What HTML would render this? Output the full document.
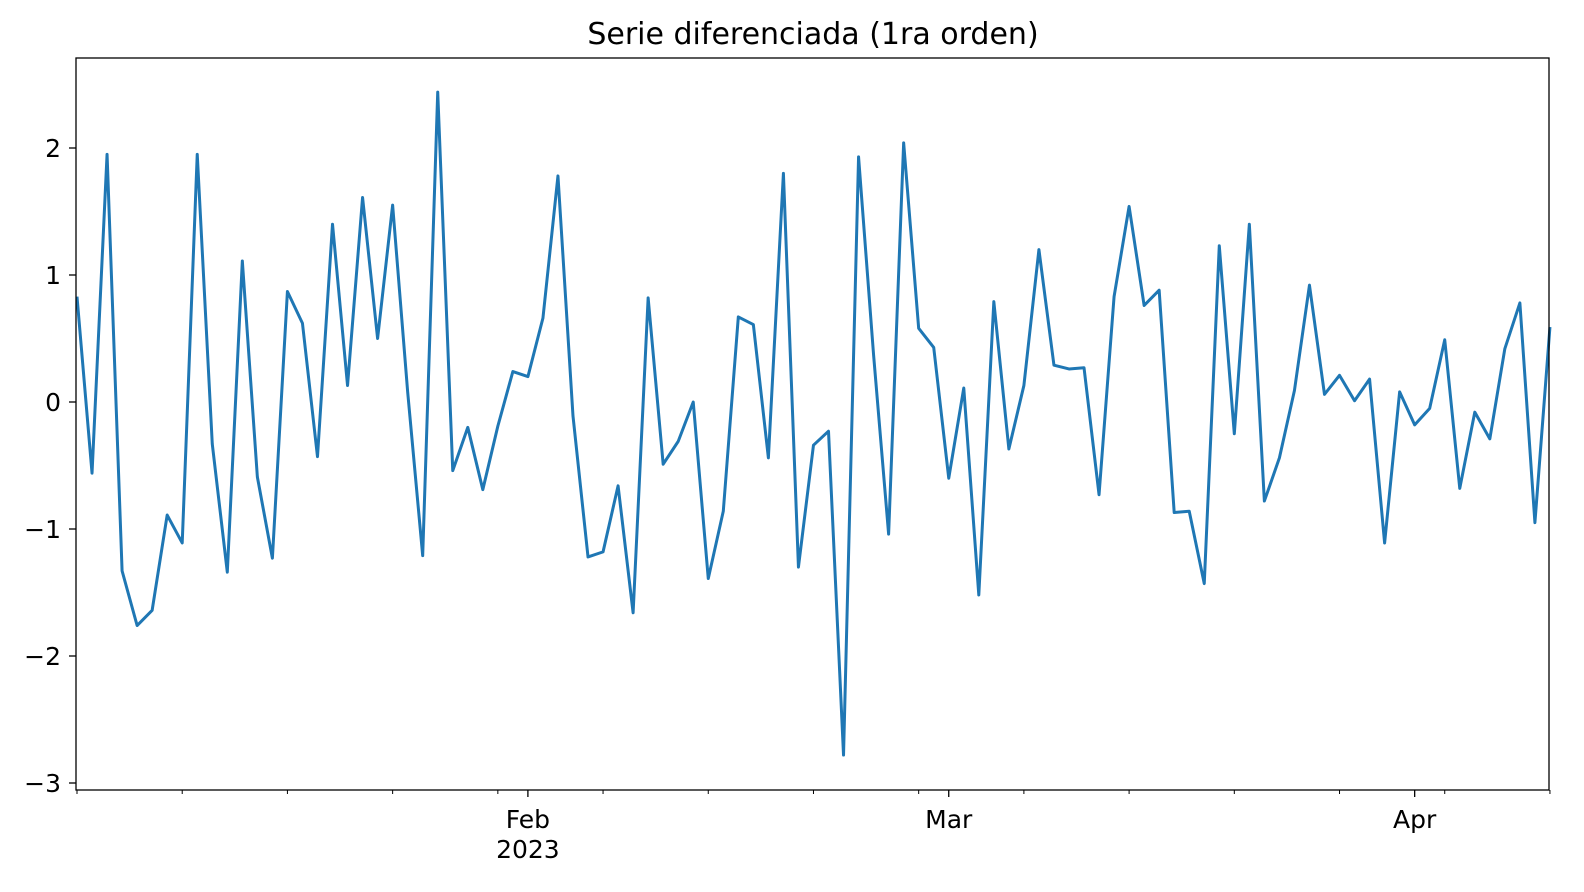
<!DOCTYPE html>
<html><head><meta charset="utf-8"><style>
html,body{margin:0;padding:0;background:#fff;width:1584px;height:892px;overflow:hidden}
svg{display:block;font-family:"DejaVu Sans","Liberation Sans",sans-serif}
</style></head><body>
<svg id="chart" width="1584" height="892" viewBox="0 0 1584 892">
<text x="813" y="44" text-anchor="middle" font-size="30" fill="#000">Serie diferenciada (1ra orden)</text>
<g id="marks"></g>
<rect x="76" y="58" width="1473" height="732" fill="none" stroke="#000" stroke-width="1.3"/>
<g id="axes"></g>
</svg>
<script>
const startDate = "2023-01-02";
const values = [0.83,-0.56,1.95,-1.33,-1.76,-1.64,-0.89,-1.11,1.95,-0.33,-1.34,1.11,-0.59,-1.23,0.87,0.62,-0.43,1.40,0.13,1.61,0.50,1.55,0.08,-1.21,2.44,-0.54,-0.20,-0.69,-0.19,0.24,0.20,0.66,1.78,-0.11,-1.22,-1.18,-0.66,-1.66,0.82,-0.49,-0.31,0.00,-1.39,-0.86,0.67,0.61,-0.44,1.80,-1.30,-0.34,-0.23,-2.78,1.93,0.37,-1.04,2.04,0.58,0.43,-0.60,0.11,-1.52,0.79,-0.37,0.13,1.20,0.29,0.26,0.27,-0.73,0.83,1.54,0.76,0.88,-0.87,-0.86,-1.43,1.23,-0.25,1.40,-0.78,-0.44,0.09,0.92,0.06,0.21,0.01,0.18,-1.11,0.08,-0.18,-0.05,0.49,-0.68,-0.08,-0.29,0.42,0.78,-0.95,0.59];
const yTicks = [2,1,0,-1,-2,-3];
const yTickLabels = ["2","1","0","\u22121","\u22122","\u22123"];
const majorDays = [30,58,89];
const majorLabels = ["Feb","Mar","Apr"];
const minorDays = [7,14,21,28,35,42,49,56,63,70,77,84,91,98];

const NS="http://www.w3.org/2000/svg";
const X0=77, DX=15.03;
const xS = d => X0 + d*DX;
const yS = v => 402 - 127*v;
const marks=document.getElementById('marks'), axes=document.getElementById('axes');
function mk(tag, attrs, parent){const e=document.createElementNS(NS,tag);for(const k in attrs)e.setAttribute(k,attrs[k]);parent.appendChild(e);return e;}

const pl = mk('polyline',{points: values.map((v,i)=>xS(i).toFixed(2)+","+yS(v).toFixed(2)).join(" "), fill:"none", stroke:"#1f77b4", "stroke-width":"3", "stroke-linejoin":"round"}, marks);



yTicks.forEach((t,i)=>{
  const y=yS(t);
  const tk=mk('line',{x1:69,x2:76,y1:y,y2:y,stroke:"#000","stroke-width":"1.3"},axes);
  
  
  const lb=mk('text',{x:61,y:y+9,"text-anchor":"end","font-size":"25",fill:"#000"},axes);
  lb.textContent=yTickLabels[i];
  
  
});
majorDays.forEach((d,i)=>{
  const x=xS(d);
  const tk=mk('line',{x1:x,x2:x,y1:790,y2:797,stroke:"#000","stroke-width":"1.3"},axes);
  
  
  const lb=mk('text',{x:x,y:828,"text-anchor":"middle","font-size":"25",fill:"#000"},axes);
  lb.textContent=majorLabels[i];
  
  
});
const yr=mk('text',{x:xS(majorDays[0]),y:858,"text-anchor":"middle","font-size":"25",fill:"#000"},axes);
yr.textContent="2023";


[0].concat(minorDays).forEach(d=>{
  if(majorDays.includes(d))return;
  const x=xS(d);
  const tk=mk('line',{x1:x,x2:x,y1:790,y2:794,stroke:"#000","stroke-width":"1"},axes);
  
  
});
</script>
</body></html>
